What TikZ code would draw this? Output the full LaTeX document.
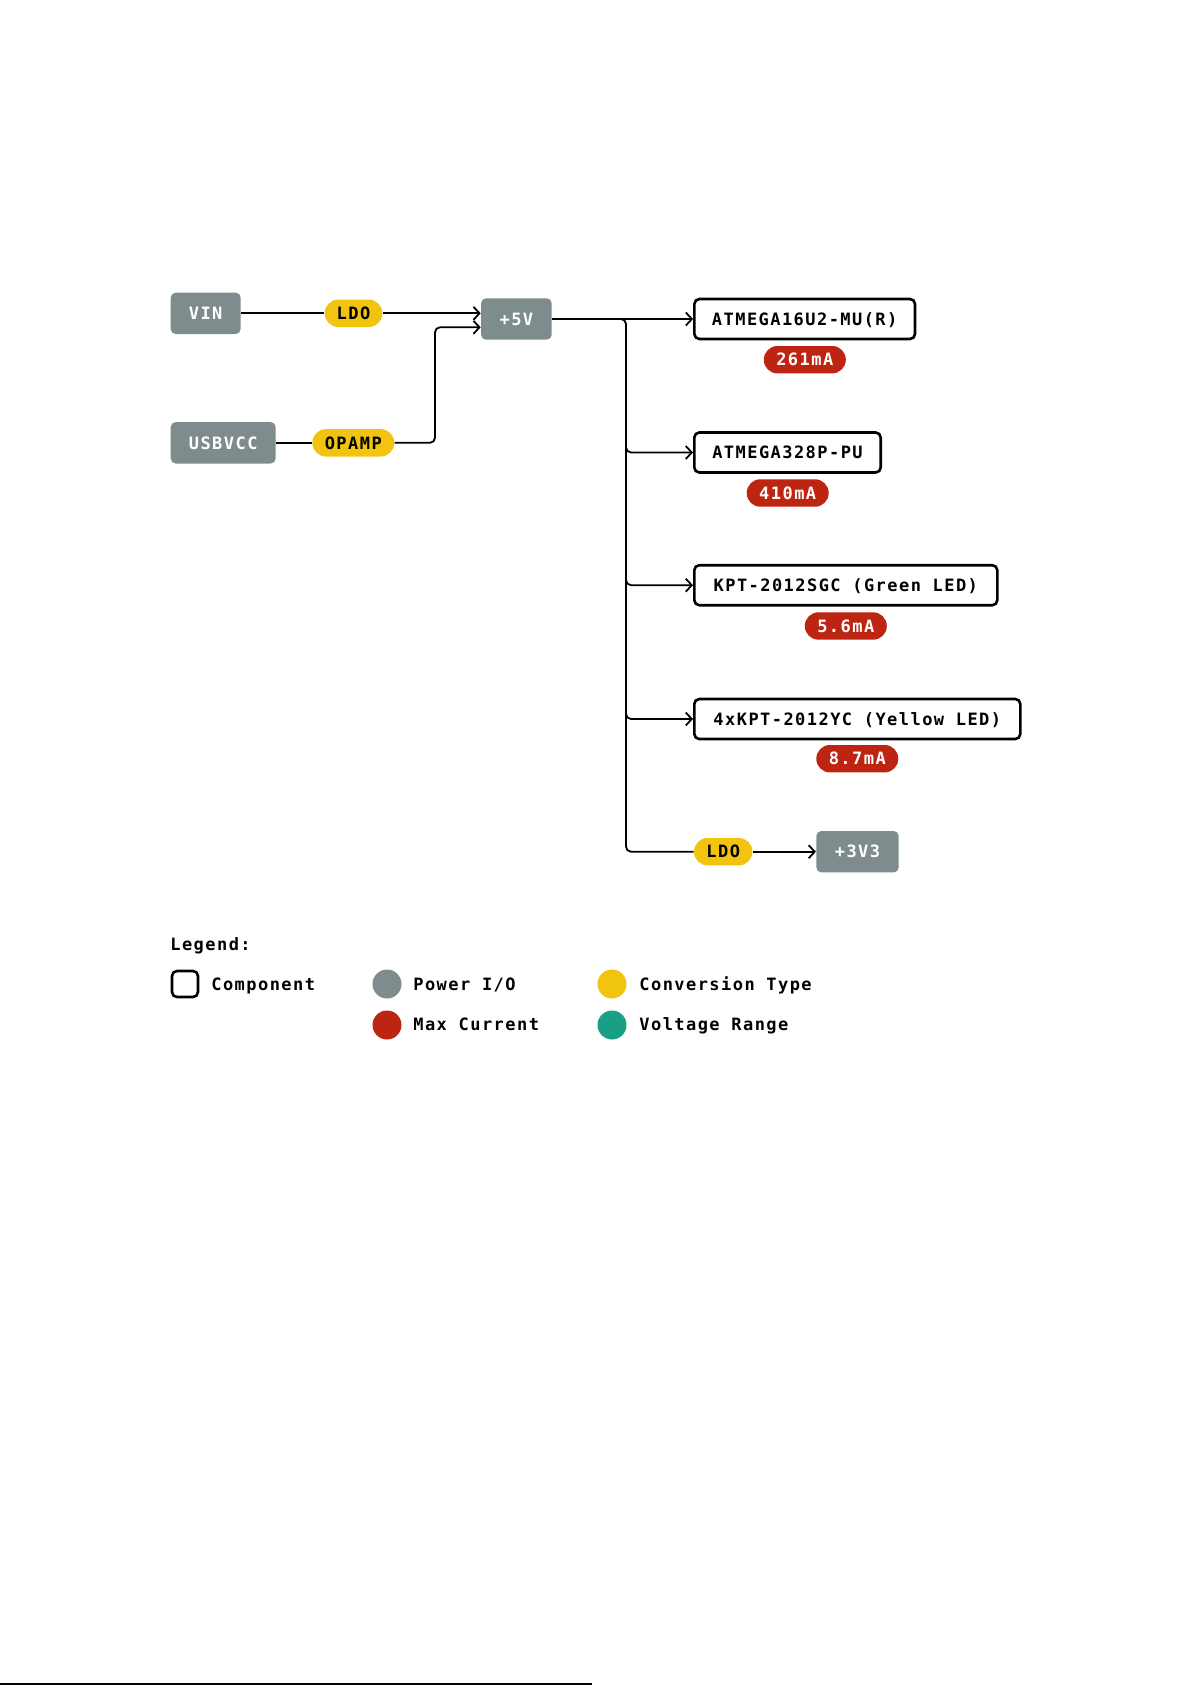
\documentclass[tikz,border=0pt]{standalone}
\usepackage{fontspec}
\usetikzlibrary{arrows.meta}
\newfontfamily\lblfont[LetterSpace=8.5,UprightFont=*,BoldFont=* Bold]{DejaVu Sans Mono}
\definecolor{pgray}{HTML}{7F8C8D}
\definecolor{pyellow}{HTML}{F1C40F}
\definecolor{pred}{HTML}{BE2412}
\definecolor{pteal}{HTML}{1A9E86}
\tikzset{
  lbl/.style={font=\lblfont\bfseries\fontsize{8.5}{10}\selectfont, text height=6.2pt, text depth=0pt, inner sep=0pt, align=center},
  iobox/.style={lbl, fill=pgray, text=white, rounded corners=2.5pt, minimum height=20.7pt},
  comp/.style={lbl, draw=black, line width=1.3pt, fill=white, rounded corners=2.5pt, minimum height=20pt},
  conv/.style={lbl, fill=pyellow, text=black, rounded corners=6.8pt, minimum height=13.7pt},
  curr/.style={lbl, fill=pred, text=white, rounded corners=6.8pt, minimum height=13.7pt, minimum width=41pt},
  wire/.style={line width=0.9pt, black},
  arr/.style={wire, -{Straight Barb[length=3pt,width=6.5pt,line width=0.9pt]}},
  legtxt/.style={font=\lblfont\bfseries\fontsize{8.5}{10}\selectfont, inner sep=0pt, anchor=base west},
  dot/.style={circle, inner sep=0pt, minimum size=14.5pt}
}
\begin{document}
\begin{tikzpicture}[x=0.5pt,y=-0.5pt]
\useasboundingbox (0,0) rectangle (1191,1685);
% power inputs
\node[iobox, minimum width=35pt] (vin) at (205.7,313.3) {VIN};
\node[conv, minimum width=28.8pt] (ldoa) at (353.5,313.3) {LDO};
\node[iobox, minimum width=35.3pt] (p5) at (516.4,319) {+5V};
\node[iobox, minimum width=52.5pt] (usb) at (223.2,442.8) {USBVCC};
\node[conv, minimum width=41pt] (opamp) at (353.3,442.8) {OPAMP};
% components
\node[comp, minimum width=110.3pt] (a16) at (804.7,319) {ATMEGA16U2-MU(R)};
\node[curr] (c16) at (804.8,359.7) {261mA};
\node[comp, minimum width=93.2pt] (a328) at (787.5,452.5) {ATMEGA328P-PU};
\node[curr] (c328) at (787.7,493) {410mA};
\node[comp, minimum width=151.5pt] (kg) at (845.8,585.2) {KPT-2012SGC (Green LED)};
\node[curr] (ckg) at (845.8,626) {5.6mA};
\node[comp, minimum width=163pt] (ky) at (857.3,719) {4xKPT-2012YC (Yellow LED)};
\node[curr] (cky) at (857.3,758.7) {8.7mA};
\node[conv, minimum width=29.2pt] (ldob) at (723.2,851.7) {LDO};
\node[iobox, minimum width=41.2pt] (p33) at (857.5,851.7) {+3V3};
% junction coordinates
\coordinate (j1) at (435,327.3);
\coordinate (tt) at (626,319);
\coordinate (tb) at (626,851.7);
% connectors
\draw[wire] (vin) -- (ldoa);
\draw[arr] (ldoa.east) -- (ldoa.east -| p5.west);
\draw[wire] (usb) -- (opamp);
\draw[arr, rounded corners=2.5pt] (opamp.east) -| (j1) -- (j1 -| p5.west);
\draw[arr] (p5.east) -- (a16.west);
\draw[wire, rounded corners=2.5pt] ([xshift=-6pt]tt) -- (tt) -- (tb) -- (ldob.west);
\draw[arr, rounded corners=2.5pt] ([yshift=6pt]a328.west -| tt) |- (a328.west);
\draw[arr, rounded corners=2.5pt] ([yshift=6pt]kg.west -| tt) |- (kg.west);
\draw[arr, rounded corners=2.5pt] ([yshift=6pt]ky.west -| tt) |- (ky.west);
\draw[arr] (ldob.east) -- (p33.west);
% legend
\node[legtxt] (leg) at (170,950) {Legend:};
\node[draw=black, line width=1.3pt, rounded corners=2.5pt, minimum size=13pt, inner sep=0pt] (lc) at (185,984) {};
\node[legtxt] (lct) at (211,990.5) {Component};
\node[dot, fill=pgray] (lg) at (387,984) {};
\node[legtxt] (lgt) at (413,990.5) {Power I/O};
\node[dot, fill=pyellow] (ly) at (612,984) {};
\node[legtxt] (lyt) at (639,990.5) {Conversion Type};
\node[dot, fill=pred] (lr) at (387,1025) {};
\node[legtxt] (lrt) at (413,1030.5) {Max Current};
\node[dot, fill=pteal] (lt) at (612,1025) {};
\node[legtxt] (ltt) at (639,1030.5) {Voltage Range};
% bottom rule
\coordinate (r0) at (0,1683.8);
\coordinate (r1) at (592,1683.8);
\draw[line width=1pt] (r0) -- (r1);
\end{tikzpicture}
\end{document}
